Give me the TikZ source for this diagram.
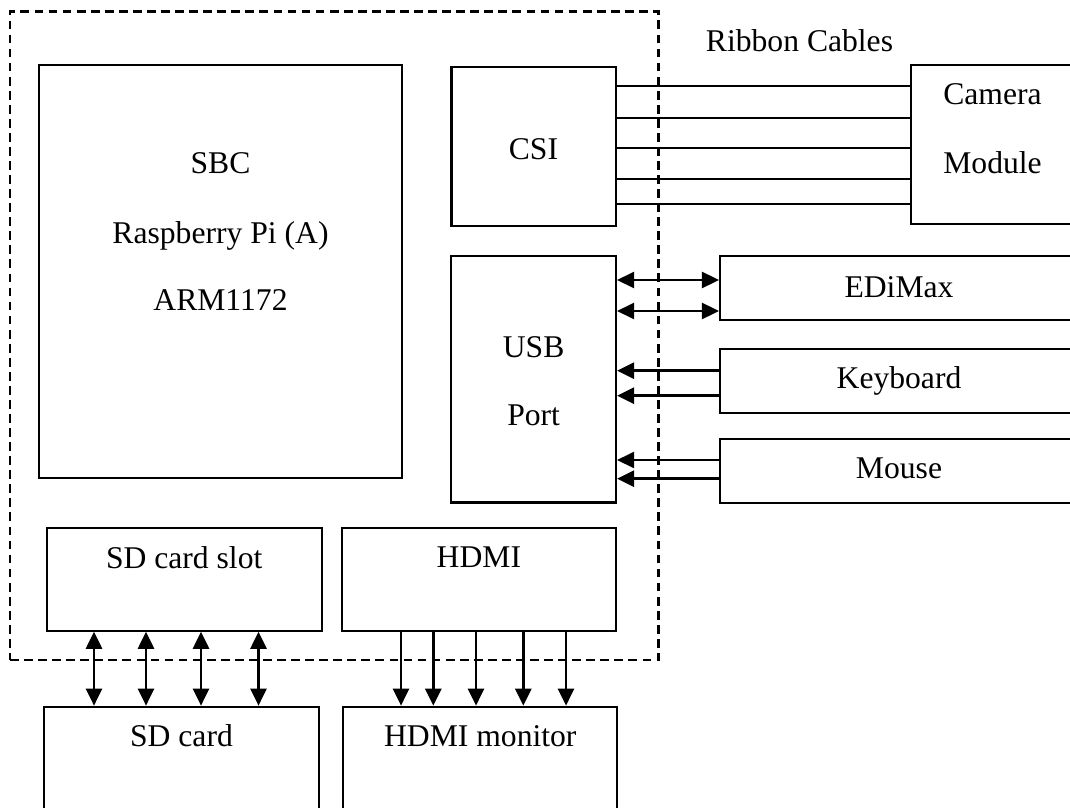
\documentclass[tikz,border=0pt]{standalone}
\usepackage{fontspec}
\setmainfont{Liberation Serif}
\usetikzlibrary{arrows.meta, fit}

\begin{document}
\begin{tikzpicture}[x=0.02cm, y=-0.02cm,
  box/.style={draw, line width=1.2pt, inner sep=0pt},
  txt/.style={anchor=base, inner sep=0pt, font=\fontsize{18}{22}\selectfont},
  wire/.style={line width=1.5pt, -{Triangle[length=3.4mm,width=3.2mm]}},
  bus/.style={line width=1.5pt, {Triangle[length=3.4mm,width=3.2mm]}-{Triangle[length=3.4mm,width=3.2mm]}}]

\clip (0,0) rectangle (1070,807);

% board outline
\node[box, dash pattern=on 5pt off 3pt, line width=1.4pt, fit={(10,11.7) (658.3,660)}] (board) {};

% blocks
\node[box, fit={(39,65) (402,478)}] (sbc) {};
\node[box, fit={(451.5,66.7) (616,226)}] (csi) {};
\node[box, fit={(910.7,65) (1078,224)}] (cam) {};
\node[box, fit={(451,256) (616,502.5)}] (usb) {};
\node[box, fit={(720,256) (1078,320)}] (edimax) {};
\node[box, fit={(720,349) (1078,413)}] (keyb) {};
\node[box, fit={(720,439) (1078,503)}] (mouse) {};
\node[box, fit={(46.7,527.7) (321.7,630.7)}] (slot) {};
\node[box, fit={(341.7,527.7) (616,630.7)}] (hdmi) {};
\node[box, fit={(44,706.7) (319,830)}] (sdcard) {};
\node[box, fit={(343.3,706.7) (617.3,830)}] (monitor) {};

% texts
\node[txt] (sbc1) at (220.5,174) {SBC};
\node[txt] (sbc2) at (220.5,243.3) {Raspberry Pi (A)};
\node[txt] (sbc3) at (220.5,310) {ARM1172};
\node[txt] (csi1) at (533.5,160) {CSI};
\node[txt] (ribbon) at (799.5,51.7) {Ribbon Cables};
\node[txt] (cam1) at (992.5,105) {Camera};
\node[txt] (cam2) at (992.5,174) {Module};
\node[txt] (usb1) at (533.6,357.3) {USB};
\node[txt] (usb2) at (533.6,425) {Port};
\node[txt] (edimax1) at (899,297.3) {EDiMax};
\node[txt] (keyb1) at (899,388.3) {Keyboard};
\node[txt] (mouse1) at (899,478.3) {Mouse};
\node[txt] (slot1) at (184.2,568) {SD card slot};
\node[txt] (hdmi1) at (478.9,567.7) {HDMI};
\node[txt] (sdcard1) at (181.5,746.7) {SD card};
\node[txt] (monitor1) at (480.3,746.7) {HDMI monitor};

% ribbon cables
\foreach \y in {86,117.7,148.3,179,204}
  \draw[line width=1.2pt] (csi.east |- 0,\y) -- (cam.west |- 0,\y);

% usb links
\foreach \y in {280,311}
  \draw[bus] (usb.east |- 0,\y) -- (edimax.west |- 0,\y);
\foreach \y in {370.7,395.7}
  \draw[wire] (keyb.west |- 0,\y) -- (usb.east |- 0,\y);
\foreach \y in {460,478.7}
  \draw[wire] (mouse.west |- 0,\y) -- (usb.east |- 0,\y);

% sd card and hdmi links
\foreach \x in {94,146,201,258.5}
  \draw[bus] (slot.south -| \x,0) -- (sdcard.north -| \x,0);
\foreach \x in {401,433.3,476,523.3,566}
  \draw[wire] (hdmi.south -| \x,0) -- (monitor.north -| \x,0);

\end{tikzpicture}
\end{document}
